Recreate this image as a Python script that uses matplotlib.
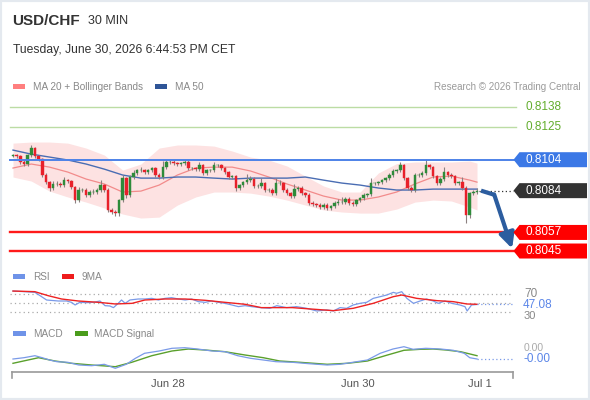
import matplotlib
matplotlib.use("Agg")
import matplotlib.pyplot as plt
from matplotlib.patches import Polygon, Rectangle
from matplotlib.transforms import IdentityTransform, blended_transform_factory

plt.rcParams['font.family'] = ['Liberation Sans', 'DejaVu Sans']

# ---------------- data ----------------
# 30 min candles, closes; open = previous close
first_open = 0.81065
closes = [
    0.81070, 0.81063, 0.81025, 0.81012, 0.81070, 0.81115, 0.81063, 0.81044, 0.80941, 0.80895,
    0.80857, 0.80883, 0.80883, 0.80876, 0.80908, 0.80902, 0.80863, 0.80779, 0.80844, 0.80844,
    0.80812, 0.80831, 0.80831, 0.80844, 0.80876, 0.80844, 0.80715, 0.80702, 0.80695, 0.80779,
    0.80921,
    0.80812, 0.80928, 0.80954, 0.80973, 0.80973, 0.80960, 0.80973, 0.80986, 0.80941, 0.80928,
    0.80992, 0.81025, 0.81025, 0.81018, 0.81012, 0.81018, 0.81025, 0.80986, 0.80986, 0.80979,
    0.81005, 0.80954, 0.80973, 0.80973, 0.81005, 0.81005, 0.80986, 0.80960, 0.80928, 0.80934,
    0.80857, 0.80876, 0.80895, 0.80908,
    0.80915, 0.80870, 0.80870, 0.80889, 0.80844, 0.80844, 0.80824, 0.80889, 0.80889, 0.80844,
    0.80824, 0.80805, 0.80850, 0.80857, 0.80824, 0.80812, 0.80760, 0.80753, 0.80747, 0.80734,
    0.80747, 0.80728, 0.80740, 0.80760, 0.80766, 0.80766, 0.80786, 0.80760, 0.80753, 0.80779,
    0.80792, 0.80812, 0.80818,
    0.80889, 0.80889, 0.80895, 0.80908, 0.80921, 0.80941, 0.80967, 0.80973, 0.81005, 0.80921,
    0.80857, 0.80844, 0.80941, 0.80941, 0.80954, 0.81005, 0.80992, 0.80934, 0.80889, 0.80915,
    0.80960, 0.80941, 0.80934, 0.80889, 0.80895, 0.80857, 0.80682, 0.80824, 0.80831, 0.80840,
]
# wick lengths in pips
upper_wick = [1, 1, 1, 1, 1, 2, 1, 1, 1, 1, 1, 2, 2, 1, 2, 1, 1, 1, 2, 1, 1, 1, 2, 1, 3, 1, 1, 1, 1, 1, 2,
              1, 1, 2, 1, 2, 1, 1, 1, 1, 1, 4, 1, 1, 1, 1, 1, 1, 1, 1, 1, 2, 1, 1, 1, 2, 1, 1, 1, 1, 1, 1, 1, 1, 4,
              2, 1, 1, 3, 1, 1, 1, 3, 2, 1, 1, 1, 3, 1, 1, 1, 1, 1, 1, 1, 1, 1, 1, 1, 2, 3, 1, 1, 1, 1, 1, 1, 1,
              3, 1, 1, 1, 1, 1, 1, 1, 2, 1, 1, 1, 1, 1, 1, 4, 1, 1, 1, 1, 3, 1, 1, 1, 1, 3, 1, 1, 1, 2]
lower_wick = [1, 1, 1, 1, 1, 1, 1, 1, 1, 1, 2, 1, 1, 1, 1, 1, 1, 2, 1, 1, 1, 1, 1, 1, 1, 1, 1, 1, 2, 2, 1,
              2, 1, 1, 1, 1, 1, 1, 1, 1, 1, 1, 1, 1, 1, 1, 1, 1, 1, 1, 1, 1, 1, 1, 1, 1, 1, 1, 1, 1, 1, 2, 1, 1, 1,
              1, 1, 1, 1, 1, 1, 1, 1, 1, 1, 1, 1, 1, 1, 1, 1, 1, 1, 1, 1, 1, 1, 1, 1, 1, 1, 1, 1, 1, 1, 1, 1, 1,
              1, 1, 1, 1, 1, 1, 1, 1, 1, 1, 1, 1, 1, 1, 1, 1, 1, 1, 1, 1, 1, 1, 1, 1, 1, 1, 5, 2, 1, 1]
PIP = 0.0001

# MA 20 + Bollinger Bands, MA 50 (sampled at candle indices)
band_idx = [0, 5, 10, 15, 20, 25, 30, 35, 40, 45, 50, 55, 60, 65, 70, 75, 80, 85, 90, 95,
            100, 105, 110, 115, 120, 125, 127]
bb_upper = [0.81147, 0.81154, 0.81154, 0.81147, 0.81115, 0.81070, 0.80973, 0.81012, 0.81115, 0.81135,
            0.81135, 0.81128, 0.81096, 0.81057, 0.81038, 0.80999, 0.80934, 0.80870, 0.80831, 0.80831,
            0.80954, 0.81015, 0.81025, 0.81025, 0.81025, 0.81031, 0.81018]
bb_lower = [0.80928, 0.80902, 0.80837, 0.80799, 0.80766, 0.80728, 0.80689, 0.80663, 0.80669, 0.80747,
            0.80799, 0.80831, 0.80831, 0.80824, 0.80805, 0.80779, 0.80747, 0.80715, 0.80702, 0.80695,
            0.80695, 0.80721, 0.80766, 0.80779, 0.80773, 0.80734, 0.80715]
ma20 = [0.80986, 0.81012, 0.80992, 0.80960, 0.80915, 0.80883, 0.80831, 0.80837, 0.80876, 0.80941,
        0.80986, 0.80992, 0.80992, 0.80967, 0.80928, 0.80883, 0.80844, 0.80805, 0.80779, 0.80779,
        0.80799, 0.80831, 0.80883, 0.80928, 0.80934, 0.80908, 0.80895]
ma50 = [0.81102, 0.81076, 0.81057, 0.81038, 0.81012, 0.80979, 0.80941, 0.80921, 0.80921, 0.80928,
        0.80928, 0.80921, 0.80915, 0.80921, 0.80921, 0.80921, 0.80928, 0.80908, 0.80889, 0.80876,
        0.80857, 0.80844, 0.80844, 0.80850, 0.80850, 0.80850, 0.80850]

# RSI and its 9MA
rsi_idx = [0, 3.3, 6, 7.4, 9.2, 12.4, 14.7, 16, 17, 18.3, 20.2, 22, 23.8, 25.2, 26.5, 27.5, 28.8, 29.7,
           30.7, 32, 34.3, 36.1, 38, 39.8, 41.6, 43.4, 45.3, 47.1, 48.9, 50.7, 52.6, 54.4, 56.2, 58,
           59.9, 61.7, 63.5, 65.3, 67.6, 70.3, 72.2, 74.9, 77.6, 80.4, 83.1, 85.9, 87.7, 89.5, 91.3,
           93.1, 95, 96.8, 98.6, 100.5, 102.3, 104.1, 105, 106.4, 107.8, 109.6, 111.4, 113.2, 115,
           116.4, 118.2, 120.1, 122.3, 123.7, 124.3, 125.5, 127]
rsi_val = [76.5, 75.1, 73.6, 66.4, 56.9, 54.7, 54.7, 51.8, 46, 51.8, 51.1, 51.8, 54.7, 44.5, 43.8, 40.2,
           49.6, 56.9, 49.6, 56.9, 59.1, 59.1, 60.5, 56.9, 60.5, 62, 59.1, 56.9, 59.1, 53.3, 51.8, 54.7,
           51.8, 49.6, 46, 42.4, 44.5, 42.4, 40.2, 38.7, 44.5, 40.2, 42.4, 38.7, 32.9, 35.1, 32.9, 40.2,
           38.7, 46, 49.6, 51.8, 60.5, 64.2, 67.8, 73.6, 71.5, 75.1, 60.5, 49.6, 54.7, 59.1, 54.7, 49.6,
           54.7, 49.6, 46, 42.4, 32.9, 46, 47.08]
rsi_ma_idx = [0, 6, 9.6, 13.3, 17.9, 23.4, 28, 32.6, 36.1, 41.6, 47.1, 52.6, 58, 63.5, 68, 76.5, 81.3,
              87.7, 93.1, 98.6, 104.1, 106.4, 110.5, 116, 120.5, 124.2, 127]
rsi_ma_val = [76.5, 75.1, 66.4, 59.1, 54.7, 51.8, 48.2, 49.6, 56.9, 59.1, 59.1, 56.2, 51.8, 47.5, 40.2,
              40.2, 37.3, 33.6, 38.7, 49.6, 64.2, 67.8, 60.5, 55.5, 53.3, 48.2, 47.5]
rsi_levels = [70, 50, 30]

# MACD and signal
macd_idx = [0, 3, 6, 8, 10, 12, 15, 18, 21.5, 25, 28, 31, 33.5, 36, 40, 43.5, 47, 50.5, 54.5, 58,
            61.5, 65, 68.5, 72, 76.5, 81, 86, 89.5, 93, 97, 100.5, 104, 107, 109.5, 113, 117, 120.5,
            123.5, 125, 127]
macd_val = [-0.000140, -0.000114, -0.000074, -0.000114, -0.000160, -0.000194, -0.000206, -0.000260,
            -0.000274, -0.000246, -0.000326, -0.000246, -0.000126, -0.000026, 0.000020, 0.000074,
            0.000086, 0.000060, 0.000020, 0.000006, -0.000074, -0.000126, -0.000160, -0.000194,
            -0.000206, -0.000234, -0.000260, -0.000246, -0.000206, -0.000160, -0.000026, 0.000060,
            0.000106, 0.000054, 0.000074, 0.000060, 0.000034, -0.000026, -0.000114, -0.000140]
signal_idx = [0, 7, 11.5, 16, 21.5, 28, 32.5, 38, 43.5, 48, 52.5, 58, 63.5, 68.5, 73, 78.5, 86, 91.5,
              97, 102.5, 107, 111.5, 115, 118.5, 122.5, 127]
signal_val = [-0.000226, -0.000114, -0.000180, -0.000226, -0.000260, -0.000294, -0.000206, -0.000074,
              0.000020, 0.000060, 0.000040, 0.000006, -0.000060, -0.000114, -0.000180, -0.000206,
              -0.000246, -0.000226, -0.000180, -0.000060, 0.000034, 0.000054, 0.000060, 0.000040,
              0.000006, -0.000074]

levels_green = [0.8138, 0.8125]
level_blue = 0.8104
last_price = 0.8084
levels_red = [0.8057, 0.8045]

date_pos = [42.4, 94.4, 127.8]
date_labels = ['Jun 28', 'Jun 30', 'Jul 1']

# ---------------- figure ----------------
W, H = 590, 400
fig = plt.figure(figsize=(W / 100, H / 100), dpi=100)
PX = IdentityTransform()


def add_ax(x0, y0, x1, y1):
    # pixel box measured from the top-left corner
    a = fig.add_axes([x0 / W, 1 - y1 / H, (x1 - x0) / W, (y1 - y0) / H])
    a.set_axis_off()
    a.set_xlim(-0.82, 136.85)
    return a


def ftext(x, y, s, **kw):
    # text at pixel position (y from top)
    return fig.text(x, H - y, s, transform=PX, **kw)


def frect(x, y, w, h, color):
    fig.add_artist(Rectangle((x, H - y - h), w, h, transform=PX, color=color, lw=0))


# header
ftext(12, 25, 'USD/CHF', fontsize=11, weight='bold', color='#333333')
ftext(88, 24, '30 MIN', fontsize=9, color='#333333')
ftext(13, 53, 'Tuesday, June 30, 2026 6:44:53 PM CET', fontsize=8.7, color='#333333')

# legend of the price panel
frect(13, 84, 12, 5, '#ff7f7f')
ftext(33, 90, 'MA 20 + Bollinger Bands', fontsize=7.2, color='#888888')
frect(155, 84, 12, 5, '#2f5597')
ftext(175, 90, 'MA 50', fontsize=7.2, color='#888888')
ftext(581, 90, 'Research \u00a9 2026 Trading Central', fontsize=7.1, color='#9a9a9a', ha='right')

# ---------------- price panel ----------------
ax = add_ax(10, 95, 513, 262)
ax.set_ylim(0.80379, 0.81458)

ax.fill_between(band_idx, bb_lower, bb_upper, color='#fde2e2', lw=0, zorder=1)
ax.plot(band_idx, ma20, color='#f28b8b', lw=0.9, zorder=2)
ax.plot(band_idx, ma50, color='#4a6db3', lw=1.0, zorder=2)

opens = [first_open] + closes[:-1]
for i, (o, c) in enumerate(zip(opens, closes)):
    hi = max(o, c) + upper_wick[i] * PIP
    lo = min(o, c) - lower_wick[i] * PIP
    col = '#2e8b3a' if c >= o else '#e8202a'
    ax.vlines(i, lo, hi, color='#8c8080', lw=0.8, zorder=3)
    ax.bar(i, max(abs(c - o), 0.000012), bottom=min(o, c), width=0.7,
           color=col, edgecolor=col, lw=0.3, zorder=4)

for lv in levels_green:
    ax.axhline(lv, xmax=1.006, color='#bcdca4', lw=1.0, zorder=5, clip_on=False)
ax.axhline(level_blue, xmax=1.005, color='#4d82e8', lw=1.4, zorder=5, clip_on=False)
for lv in levels_red:
    ax.axhline(lv, xmax=1.005, color='#ff1a1a', lw=1.7, zorder=5, clip_on=False)
n = len(closes)
ax.plot([n - 0.5, 136.85], [last_price, last_price], color='#333333', lw=0.9,
        ls=(0, (1, 2)), zorder=5, clip_on=False)

# forecast arrow
arrow_col = '#2c5d9f'
ax.plot([n + 0.1, n + 3.9], [last_price, 0.80812], color=arrow_col, lw=3,
        solid_capstyle='butt', zorder=6, clip_on=False)
ax.annotate('', xy=(n + 8.6, 0.80466), xytext=(n + 3.7, 0.80815),
            arrowprops=dict(arrowstyle='-|>,head_length=0.9,head_width=0.45', lw=3,
                            color=arrow_col, shrinkA=0, shrinkB=0), zorder=6,
            annotation_clip=False)


def level_y(a, v):
    return a.transData.transform((0, v))[1]


def tag(v, color):
    y = level_y(ax, v)
    h = 7.5
    verts = [(513.5, y), (519.5, y + h), (587, y + h), (587, y - h), (519.5, y - h)]
    fig.add_artist(Polygon(verts, closed=True, transform=PX, facecolor=color, edgecolor='none'))
    fig.text(526, y, f'{v:.4f}', transform=PX, color='white', fontsize=8.5, va='center')


for lv in levels_green:
    fig.text(525, level_y(ax, lv), f'{lv:.4f}', transform=PX, color='#62ad2c',
             fontsize=8.5, va='center')
tag(level_blue, '#3b78e6')
tag(last_price, '#333333')
for lv in levels_red:
    tag(lv, '#ff0000')

# ---------------- RSI panel ----------------
frect(13, 274, 12, 5, '#6f93e8')
ftext(33, 280, 'RSI', fontsize=7.2, color='#888888')
frect(62, 274, 12, 5, '#ee1c1c')
ftext(82, 280, '9MA', fontsize=7.2, color='#888888')

ax_rsi = add_ax(10, 280.3, 513, 326)
ax_rsi.set_ylim(0, 100)
for lv in rsi_levels:
    ax_rsi.axhline(lv, color='#aaaaaa', lw=0.9, ls=(0, (1, 2.5)))
ax_rsi.plot(rsi_idx, rsi_val, color='#7a9ae8', lw=0.9)
ax_rsi.plot(rsi_ma_idx, rsi_ma_val, color='#ee2222', lw=1.0)
ax_rsi.plot([rsi_idx[-1], 136.85], [rsi_val[-1], rsi_val[-1]], color='#7a9ae8', lw=0.9,
            ls=(0, (1, 2)))
fig.text(524, level_y(ax_rsi, 70), '70', transform=PX, color='#888888', fontsize=8.5, va='center')
fig.text(524, level_y(ax_rsi, 30) - 3.5, '30', transform=PX, color='#888888', fontsize=8,
         va='center')
fig.text(523, level_y(ax_rsi, rsi_val[-1]) - 0.5, f'{rsi_val[-1]:.2f}', transform=PX,
         color='#5b86e8', fontsize=8.5, va='center',
         bbox=dict(facecolor='white', edgecolor='none', pad=0.3))

# ---------------- MACD panel ----------------
frect(13, 331, 13, 5, '#6f93e8')
ftext(33, 337, 'MACD', fontsize=7.2, color='#888888')
frect(75, 331, 13, 5, '#4a9c1c')
ftext(94, 337, 'MACD Signal', fontsize=7.2, color='#888888')

ax_m = add_ax(10, 340, 513, 373)
ax_m.set_ylim(-0.00042, 0.00024)
ax_m.plot(signal_idx, signal_val, color='#5aa02c', lw=1.0)
ax_m.plot(macd_idx, macd_val, color='#7a9ae8', lw=0.9)
ax_m.plot([macd_idx[-1], 136.85], [macd_val[-1], macd_val[-1]], color='#7a9ae8', lw=0.9,
          ls=(0, (1, 2)))
fig.text(524, level_y(ax_m, 0.0) + 4, '0.00', transform=PX, color='#aaaaaa', fontsize=7.5,
         va='center')
fig.text(523, level_y(ax_m, macd_val[-1]) - 0.5, f'{macd_val[-1]:.2f}', transform=PX,
         color='#5b86e8', fontsize=8.5, va='center',
         bbox=dict(facecolor='white', edgecolor='none', pad=0.3))

# x axis
fig.add_artist(plt.Line2D([12, 513], [H - 372, H - 372], transform=PX, color='#9a9a9a', lw=1.2))
for xe in (12, 513):
    fig.add_artist(plt.Line2D([xe, xe], [H - 372, H - 378], transform=PX, color='#9a9a9a', lw=1.2))
tr = blended_transform_factory(ax_m.transData, PX)
for pos, lab in zip(date_pos, date_labels):
    ax_m.text(pos, H - 384, lab, transform=tr, ha='center', va='center', fontsize=8,
              color='#555555', clip_on=False)

# light frame round the picture
fig.add_artist(Rectangle((0, 0), W, H, transform=PX, fill=False, edgecolor='#e4e9ef', lw=3))

fig.savefig('out.png', dpi=100)
